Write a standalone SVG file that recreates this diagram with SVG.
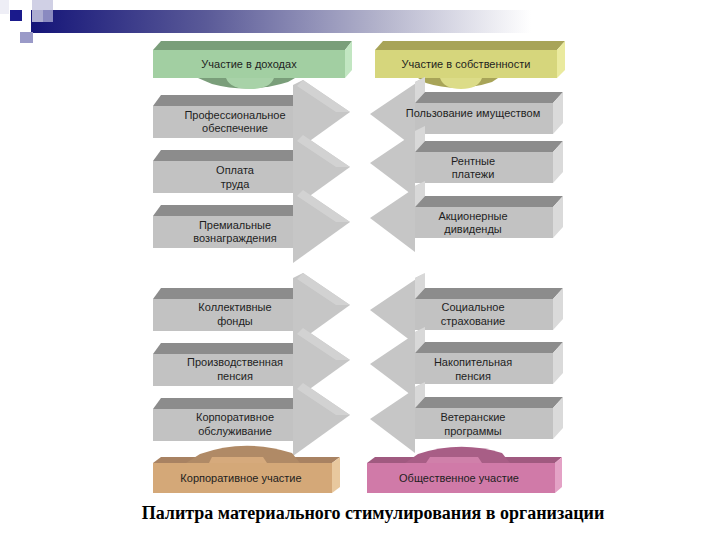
<svg xmlns="http://www.w3.org/2000/svg" width="720" height="540" viewBox="0 0 720 540">
<defs>
<linearGradient id="hdr" x1="0" y1="0" x2="1" y2="0">
<stop offset="0" stop-color="#141478"/>
<stop offset="0.35" stop-color="#5a5a98"/>
<stop offset="0.7" stop-color="#b4b4cc"/>
<stop offset="1" stop-color="#ffffff"/>
</linearGradient>
<style>
.t{font-family:"Liberation Sans",Arial,sans-serif;font-size:11px;fill:#1e1e1e;text-anchor:middle}
.cap{font-family:"Liberation Serif","Times New Roman",serif;font-size:18px;font-weight:bold;fill:#000;text-anchor:middle}
.gtop{fill:#8c8c8c}.gfront{fill:#c2c2c2}.ghead{fill:#c6c6c6}.ghl{fill:#d2d2d2}.gside{fill:#dadada}.gband{fill:#d8d8d8}
</style>
</defs>
<rect width="720" height="540" fill="#fff"/>
<g id="header">
<rect x="0" y="0" width="9" height="14" fill="#eeeef6"/>
<rect x="31" y="10" width="500" height="23" fill="url(#hdr)"/>
<rect x="32" y="0" width="21" height="22" fill="#c8c8e0" opacity="0.85"/>
<rect x="43" y="10" width="10" height="12" fill="#8a8ac0"/>
<rect x="10" y="10" width="12" height="11" fill="#1a1a8c"/>
<rect x="20" y="32" width="13" height="11" fill="#9a9ac8"/>
</g>
<g id="connectors">
<path d="M198,78 L295,78 L288,82 Q250,94 212,84 Z" fill="#7a9e7a"/>
<path d="M226,78 L274,78 Q270,89 250,89 Q230,89 226,78 Z" fill="#a8d2a8"/>
<path d="M418,78 L498,78 L492,82 Q458,93 426,83 Z" fill="#a8a458"/>
<path d="M440,78 L482,78 Q478,89 461,89 Q444,89 440,78 Z" fill="#dcdc88"/>
</g>
<g id="n-dohody">
<polygon points="153,50 161,41 352,41 345,50" fill="#7a9e7a"/>
<rect x="153" y="50" width="192" height="28" fill="#a2cfa2"/>
<polygon points="345,50 352,41 352,70 345,78" fill="#c2e6c2"/>
<text class="t" x="249" y="68">Участие в доходах</text>
</g>
<g id="n-sobstv">
<polygon points="375,50 383,41 565,41 557,50" fill="#a8a458"/>
<rect x="375" y="50" width="182" height="28" fill="#d6d67c"/>
<polygon points="557,50 565,41 565,70 557,78" fill="#eaea9e"/>
<text class="t" x="466" y="68">Участие в собственности</text>
</g>
<g id="n-prof">
<polygon class="ghead" points="293,85 303,80 350,112 293,153"/>
<polygon class="ghl" points="303,80 350,112 336,112 297,86"/>
<polygon class="gtop" points="153,106 161,95 293,95 293,106"/>
<rect class="gfront" x="153" y="106" width="140" height="32"/>
<text class="t" x="235" y="119">Профессиональное</text>
<text class="t" x="235" y="132">обеспечение</text>
</g>
<g id="n-oplata">
<polygon class="ghead" points="293,140 303,135 350,167 293,208"/>
<polygon class="ghl" points="303,135 350,167 336,167 297,141"/>
<polygon class="gtop" points="153,161 161,150 293,150 293,161"/>
<rect class="gfront" x="153" y="161" width="140" height="32"/>
<text class="t" x="235" y="174">Оплата</text>
<text class="t" x="235" y="188">труда</text>
</g>
<g id="n-prem">
<polygon class="ghead" points="293,195 303,190 350,222 293,263"/>
<polygon class="ghl" points="303,190 350,222 336,222 297,196"/>
<polygon class="gtop" points="153,216 161,205 293,205 293,216"/>
<rect class="gfront" x="153" y="216" width="140" height="32"/>
<text class="t" x="235" y="229">Премиальные</text>
<text class="t" x="235" y="242">вознаграждения</text>
</g>
<g id="n-koll">
<polygon class="ghead" points="293,278 303,273 350,305 293,346"/>
<polygon class="ghl" points="303,273 350,305 336,305 297,279"/>
<polygon class="gtop" points="153,299 161,288 293,288 293,299"/>
<rect class="gfront" x="153" y="299" width="140" height="32"/>
<text class="t" x="235" y="311">Коллективные</text>
<text class="t" x="235" y="325">фонды</text>
</g>
<g id="n-proizv">
<polygon class="ghead" points="293,333 303,328 350,360 293,401"/>
<polygon class="ghl" points="303,328 350,360 336,360 297,334"/>
<polygon class="gtop" points="153,354 161,343 293,343 293,354"/>
<rect class="gfront" x="153" y="354" width="140" height="32"/>
<text class="t" x="235" y="366">Производственная</text>
<text class="t" x="235" y="380">пенсия</text>
</g>
<g id="n-korpobs">
<polygon class="ghead" points="293,388 303,383 350,415 293,456"/>
<polygon class="ghl" points="303,383 350,415 336,415 297,389"/>
<polygon class="gtop" points="153,409 161,398 293,398 293,409"/>
<rect class="gfront" x="153" y="409" width="140" height="32"/>
<text class="t" x="235" y="421">Корпоративное</text>
<text class="t" x="235" y="435">обслуживание</text>
</g>
<g id="n-polz">
<polygon class="ghead" points="415,82 425,77 370,114 415,148"/>
<polygon class="gband" points="415,82 425,77 425,92 415,103"/>
<polygon class="gtop" points="415,103 425,92 563,92 553,103"/>
<rect class="gfront" x="415" y="103" width="138" height="31"/>
<polygon class="gside" points="553,103 563,92 563,123 553,134"/>
<text class="t" x="473" y="117">Пользование имуществом</text>
</g>
<g id="n-rent">
<polygon class="ghead" points="415,131 425,126 370,163 415,197"/>
<polygon class="gband" points="415,131 425,126 425,141 415,152"/>
<polygon class="gtop" points="415,152 425,141 563,141 553,152"/>
<rect class="gfront" x="415" y="152" width="138" height="31"/>
<polygon class="gside" points="553,152 563,141 563,172 553,183"/>
<text class="t" x="473" y="165">Рентные</text>
<text class="t" x="473" y="178">платежи</text>
</g>
<g id="n-akc">
<polygon class="ghead" points="415,186 425,181 370,218 415,252"/>
<polygon class="gband" points="415,186 425,181 425,196 415,207"/>
<polygon class="gtop" points="415,207 425,196 563,196 553,207"/>
<rect class="gfront" x="415" y="207" width="138" height="31"/>
<polygon class="gside" points="553,207 563,196 563,227 553,238"/>
<text class="t" x="473" y="220">Акционерные</text>
<text class="t" x="473" y="233">дивиденды</text>
</g>
<g id="n-soc">
<polygon class="ghead" points="415,278 425,273 370,310 415,344"/>
<polygon class="gband" points="415,278 425,273 425,288 415,299"/>
<polygon class="gtop" points="415,299 425,288 563,288 553,299"/>
<rect class="gfront" x="415" y="299" width="138" height="31"/>
<polygon class="gside" points="553,299 563,288 563,319 553,330"/>
<text class="t" x="473" y="311">Социальное</text>
<text class="t" x="473" y="325">страхование</text>
</g>
<g id="n-nakop">
<polygon class="ghead" points="415,332 425,327 370,364 415,398"/>
<polygon class="gband" points="415,332 425,327 425,342 415,353"/>
<polygon class="gtop" points="415,353 425,342 563,342 553,353"/>
<rect class="gfront" x="415" y="353" width="138" height="31"/>
<polygon class="gside" points="553,353 563,342 563,373 553,384"/>
<text class="t" x="473" y="366">Накопительная</text>
<text class="t" x="473" y="380">пенсия</text>
</g>
<g id="n-veter">
<polygon class="ghead" points="415,387 425,382 370,419 415,453"/>
<polygon class="gband" points="415,387 425,382 425,397 415,408"/>
<polygon class="gtop" points="415,408 425,397 563,397 553,408"/>
<rect class="gfront" x="415" y="408" width="138" height="31"/>
<polygon class="gside" points="553,408 563,397 563,428 553,439"/>
<text class="t" x="473" y="421">Ветеранские</text>
<text class="t" x="473" y="435">программы</text>
</g>
<g id="n-korpuch">
<polygon points="153,463 161,457 340,457 332,463" fill="#a88262"/>
<path d="M186,463 L200,454 Q245,438 292,453 L300,463 Z" fill="#b08a66"/>
<polygon points="212,457 263,457 267,463 209,463" fill="#d6aa7c"/>
<rect x="153" y="463" width="179" height="30" fill="#d4a878"/>
<polygon points="332,463 340,457 340,487 332,493" fill="#e8c89e"/>
<text class="t" x="241" y="482">Корпоративное участие</text>
</g>
<g id="n-obsch">
<polygon points="367,463 375,457 562,457 555,463" fill="#a05a80"/>
<path d="M405,463 L418,454 Q460,440 502,453 L510,463 Z" fill="#a85e86"/>
<polygon points="430,457 478,457 482,463 426,463" fill="#d080aa"/>
<rect x="367" y="463" width="188" height="30" fill="#d07aa8"/>
<polygon points="555,463 562,457 562,487 555,493" fill="#e4a2c6"/>
<text class="t" x="459" y="482">Общественное участие</text>
</g>
<text class="cap" x="373" y="519">Палитра материального стимулирования в организации</text>
</svg>
